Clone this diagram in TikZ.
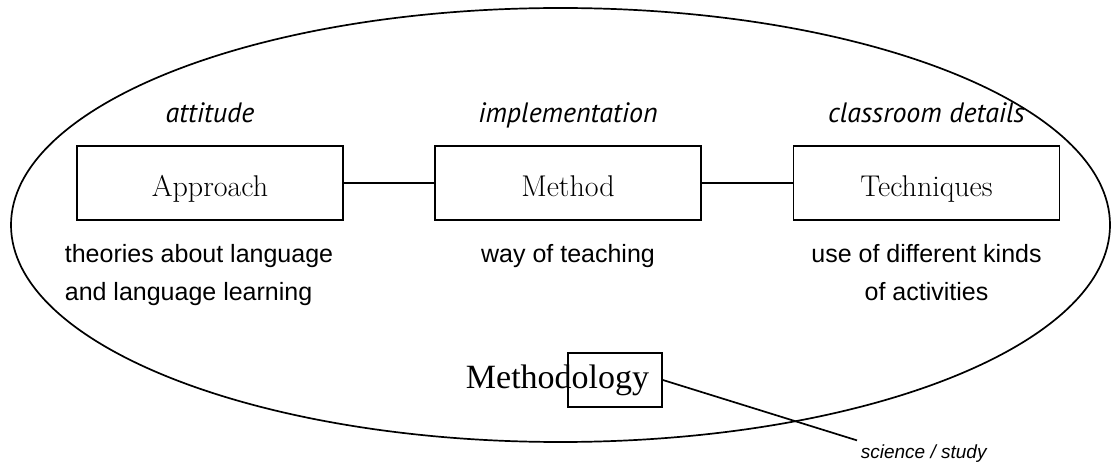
\documentclass[tikz,border=0pt]{standalone}
\usepackage{fontspec}
\newfontfamily\sansf{Liberation Sans}
\newfontfamily\humf{PT Sans}
\newfontfamily\timesf{Liberation Serif}
\begin{document}
\begin{tikzpicture}[x=1pt,y=-1pt,
  line width=1.7pt,
  stepbox/.style={draw, rectangle, minimum width=266pt, minimum height=74pt, inner sep=0pt,
     text height=28pt, text depth=0pt, font=\fontsize{30}{34}\selectfont},
  aspect/.style={font=\humf\itshape\fontsize{28}{32}\selectfont, anchor=base},
  descr/.style={font=\sansf\fontsize{25}{38}\selectfont, anchor=north, inner sep=0pt},
  link/.style={line width=1.7pt}]
\useasboundingbox (0,0) rectangle (1111,465);
\draw (560.5,225) ellipse [x radius=549.5pt, y radius=217pt];

\node[stepbox] (app) at (210,183) {Approach};
\node[stepbox] (met) at (568,183) {Method};
\node[stepbox] (tec) at (926.5,183) {Techniques};
\draw[link] (app.east) -- (met.west);
\draw[link] (met.east) -- (tec.west);

\node[aspect] (att) at (210,123) {attitude};
\node[aspect] (imp) at (568,123) {implementation};
\node[aspect] (cla) at (926.5,123) {classroom details};

\node[descr, anchor=north west, align=left] (theo) at (64,244) {theories about language\\and language learning};
\node[descr, align=center] (way) at (568,244) {way of teaching};
\node[descr, align=center] (use) at (926.5,244) {use of different kinds\\of activities};

\node[font=\timesf\fontsize{34}{38}\selectfont, anchor=base east, inner sep=0pt] (mtext) at (650,388) {Methodology};
\node[draw, rectangle, minimum width=94pt, minimum height=54pt, inner sep=0pt] (mbox) at (615,380) {};
\node[font=\sansf\itshape\fontsize{19}{22}\selectfont, anchor=base west, inner sep=3pt] (sci) at (857,458) {science / study};
\draw[link] (mbox.east) -- (sci.north west);
\end{tikzpicture}
\end{document}
